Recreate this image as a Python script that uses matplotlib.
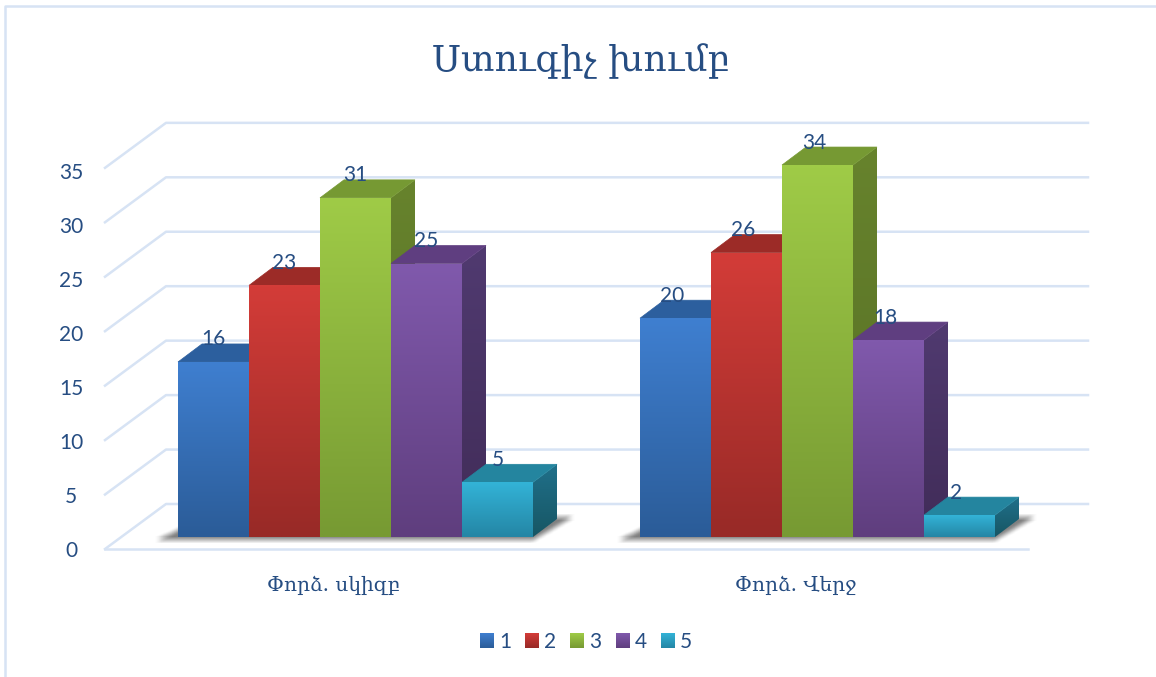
import matplotlib
matplotlib.use('Agg')
import matplotlib.pyplot as plt
import numpy as np
from matplotlib.colors import to_rgb
from matplotlib.patches import Polygon
from matplotlib.path import Path

title = 'Ստուգիչ խումբ'
categories = ['Փորձ. սկիզբ', 'Փորձ. Վերջ']
series_names = ['1', '2', '3', '4', '5']
series_1 = [16, 20]
series_2 = [23, 26]
series_3 = [31, 34]
series_4 = [25, 18]
series_5 = [5, 2]
y_ticks = [0, 5, 10, 15, 20, 25, 30, 35]

# front top, front bottom, top face, side top, side bottom
colors = [
    ('#3f7fd0', '#2b5c98', '#2c5f9e', '#2c5a92', '#234a7a'),
    ('#d33c38', '#982a27', '#9c2b27', '#7a2220', '#661b1a'),
    ('#9fcb47', '#779a33', '#769933', '#67832d', '#566e24'),
    ('#8059ac', '#5f3e7e', '#5f3e80', '#503a70', '#412c58'),
    ('#33b3d7', '#2486a5', '#24859f', '#20708a', '#175664'),
]
series = [series_1, series_2, series_3, series_4, series_5]

W, H = 1156, 677
PX_GROUP = 462.0
PX_VALUE = 10.94
X0, Y0 = 355.5, 537.0
BAR_W = 71.0 / PX_GROUP
DEPTH_X = 24 / PX_GROUP
DEPTH_Y = 18 / PX_VALUE
TEXT_COLOR = '#264d82'
GRID_COLOR = '#d7e3f4'


def X(px):
    return (px - X0) / PX_GROUP


def Y(py):
    return (Y0 - py) / PX_VALUE


def gradient(ax, pts, c1, c2, zorder):
    # vertical gradient clipped to a polygon
    pts = np.array(pts)
    t = np.linspace(0, 1, 64)[:, None]
    img = (1 - t) * np.array(to_rgb(c1)) + t * np.array(to_rgb(c2))
    im = ax.imshow(img[:, None, :], aspect='auto', interpolation='bilinear', zorder=zorder,
                   extent=(pts[:, 0].min(), pts[:, 0].max(), pts[:, 1].min(), pts[:, 1].max()))
    im.set_clip_path(Polygon(pts, transform=ax.transData))


def blur(a, size):
    k = np.ones(size) / size
    a = np.apply_along_axis(np.convolve, 0, a, k, mode='same')
    return np.apply_along_axis(np.convolve, 1, a, k, mode='same')


fig = plt.figure(figsize=(W / 100, H / 100), dpi=100)
ax = fig.add_axes([0, 0, 1, 1])
ax.axis('off')

# outer border
ax.plot([X(5), X(5), X(1156)], [Y(677), Y(6), Y(6)], color=GRID_COLOR, lw=1.8, zorder=1)

# gridlines and walls
grid_scale = 10.89 / PX_VALUE
for v in y_ticks:
    yf = Y(549) + v * grid_scale
    yb = Y(504) + v * grid_scale
    if v == 0:
        ax.plot([X(105), X(1028)], [yf, yf], color=GRID_COLOR, lw=1.8, zorder=1)
    ax.plot([X(105), X(166), X(1088)], [yf, yb, yb], color=GRID_COLOR, lw=1.8, zorder=1,
            solid_joinstyle='round')
    ax.text(X(71), Y(551) + v * 10.8 / PX_VALUE, str(v), color=TEXT_COLOR, family='Lato', fontsize=15,
            ha='center', va='center', zorder=9)

n = len(series)

# soft floor shadow under both groups
xx, yy = np.meshgrid(X(np.arange(W) + 0.5), Y(np.arange(H) + 0.5))
grid_pts = np.column_stack([xx.ravel(), yy.ravel()])
mask = np.zeros(H * W)
for g in range(len(categories)):
    left = g - n * BAR_W / 2
    right = g + n * BAR_W / 2
    pts = [(left - 21 / PX_GROUP, Y(540)), (right, Y(540)), (right + 40 / PX_GROUP, Y(517)),
           (left + 24 / PX_GROUP, Y(517)), (left, Y(530))]
    mask[Path(pts).contains_points(grid_pts)] = 1
mask = blur(mask.reshape(H, W), 7)
shadow = np.zeros((H, W, 4))
shadow[..., 3] = mask * 0.5
ax.imshow(shadow, extent=(X(0), X(W), Y(H), Y(0)), aspect='auto', zorder=2)

for g in range(len(categories)):
    left = g - n * BAR_W / 2
    for s in range(n):
        v = series[s][g]
        x1 = left + s * BAR_W
        x2 = x1 + BAR_W
        c_top, c_bot, c_face, c_s1, c_s2 = colors[s]
        front = [(x1, 0), (x2, 0), (x2, v), (x1, v)]
        side = [(x2, 0), (x2 + DEPTH_X, DEPTH_Y), (x2 + DEPTH_X, v + DEPTH_Y), (x2, v)]
        top = [(x1, v), (x2, v), (x2 + DEPTH_X, v + DEPTH_Y), (x1 + DEPTH_X, v + DEPTH_Y)]
        z = 3 + s * 0.1
        gradient(ax, side, c_s1, c_s2, z)
        ax.add_patch(Polygon(top, closed=True, fc=c_face, ec=c_face, lw=0.5, zorder=z + 0.01))
        gradient(ax, front, c_top, c_bot, z + 0.02)
        ax.text(x1 + BAR_W / 2 - g * 3 / PX_GROUP, v + 22.5 / PX_VALUE, str(v), color=TEXT_COLOR, family='Lato',
                fontsize=15, ha='center', va='center', zorder=9)

    ax.text(g - 22 / PX_GROUP, Y(585), categories[g], color=TEXT_COLOR, family='DejaVu Serif',
            fontsize=14.5, ha='center', va='center', zorder=9)

# legend
legend_x = [480, 525, 570, 616, 661]
for s in range(n):
    x = legend_x[s]
    sq = [(X(x), Y(648)), (X(x + 14), Y(648)), (X(x + 14), Y(633)), (X(x), Y(633))]
    gradient(ax, sq, colors[s][0], colors[s][1], 4)
    ax.text(X(x + 19), Y(642), series_names[s], color=TEXT_COLOR, family='Lato', fontsize=15,
            ha='left', va='center', zorder=9)

ax.text(X(581), Y(61), title, color=TEXT_COLOR, family='DejaVu Serif', fontsize=26,
        ha='center', va='center', zorder=9)

ax.set_xlim(X(0), X(W))
ax.set_ylim(Y(H), Y(0))

fig.savefig('out.png', dpi=100, facecolor='white')
